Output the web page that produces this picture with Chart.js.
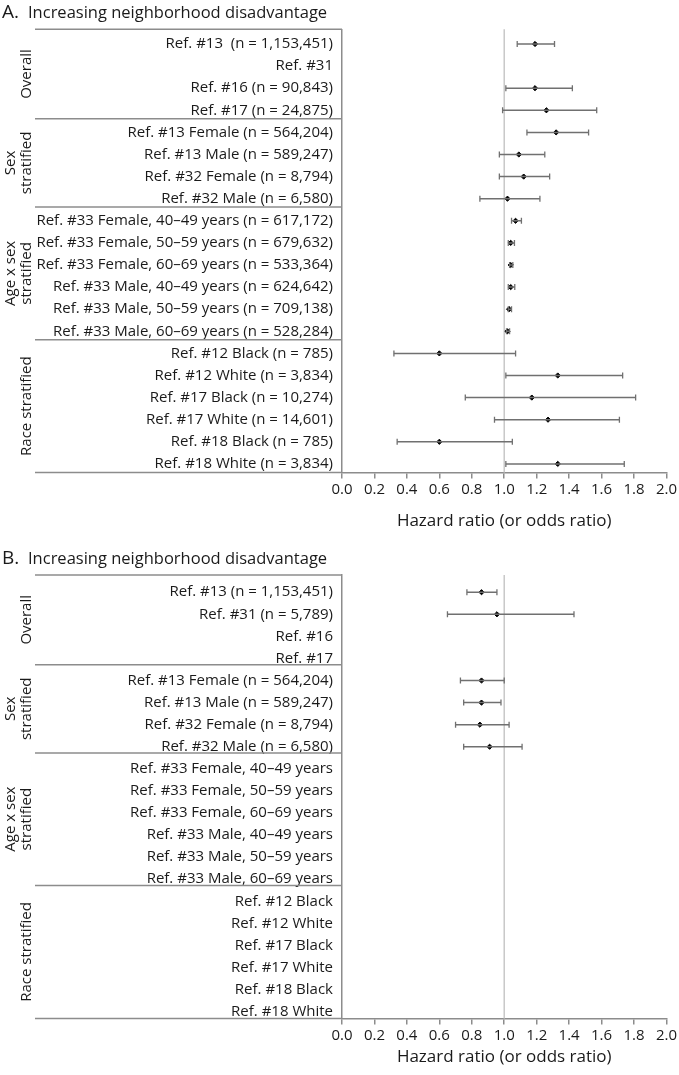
<!DOCTYPE html>
<html>
<head>
<meta charset="utf-8">
<script src="https://cdn.jsdelivr.net/npm/chart.js@4"></script>
<style>
    body { margin: 0; background: #fff; }
    canvas { display: block; }
</style>
</head>
<body>
<canvas id="graficoA" width="679" height="546"></canvas>
<canvas id="graficoB" width="679" height="529"></canvas>
<script>
// etiquetas de cada fila (panel A)
var etiquetasA = [
    'Ref. #13  (n = 1,153,451)', 'Ref. #31', 'Ref. #16 (n = 90,843)', 'Ref. #17 (n = 24,875)',
    'Ref. #13 Female (n = 564,204)', 'Ref. #13 Male (n = 589,247)', 'Ref. #32 Female (n = 8,794)', 'Ref. #32 Male (n = 6,580)',
    'Ref. #33 Female, 40\u201349 years (n = 617,172)', 'Ref. #33 Female, 50\u201359 years (n = 679,632)',
    'Ref. #33 Female, 60\u201369 years (n = 533,364)', 'Ref. #33 Male, 40\u201349 years (n = 624,642)',
    'Ref. #33 Male, 50\u201359 years (n = 709,138)', 'Ref. #33 Male, 60\u201369 years (n = 528,284)',
    'Ref. #12 Black (n = 785)', 'Ref. #12 White (n = 3,834)', 'Ref. #17 Black (n = 10,274)',
    'Ref. #17 White (n = 14,601)', 'Ref. #18 Black (n = 785)', 'Ref. #18 White (n = 3,834)'
];
var estimadoA = [1.19, null, 1.19, 1.26, 1.32, 1.09, 1.12, 1.02, 1.07, 1.04, 1.04, 1.04, 1.03, 1.02, 0.60, 1.33, 1.17, 1.27, 0.60, 1.33];
var inferiorA = [1.08, null, 1.01, 0.99, 1.14, 0.97, 0.97, 0.85, 1.045, 1.025, 1.033, 1.025, 1.025, 1.014, 0.32, 1.01, 0.76, 0.94, 0.34, 1.01];
var superiorA = [1.31, null, 1.42, 1.57, 1.52, 1.25, 1.28, 1.22, 1.106, 1.063, 1.053, 1.065, 1.045, 1.033, 1.07, 1.73, 1.81, 1.71, 1.05, 1.74];

// etiquetas de cada fila (panel B)
var etiquetasB = [
    'Ref. #13 (n = 1,153,451)', 'Ref. #31 (n = 5,789)', 'Ref. #16', 'Ref. #17',
    'Ref. #13 Female (n = 564,204)', 'Ref. #13 Male (n = 589,247)', 'Ref. #32 Female (n = 8,794)', 'Ref. #32 Male (n = 6,580)',
    'Ref. #33 Female, 40\u201349 years', 'Ref. #33 Female, 50\u201359 years', 'Ref. #33 Female, 60\u201369 years',
    'Ref. #33 Male, 40\u201349 years', 'Ref. #33 Male, 50\u201359 years', 'Ref. #33 Male, 60\u201369 years',
    'Ref. #12 Black', 'Ref. #12 White', 'Ref. #17 Black', 'Ref. #17 White', 'Ref. #18 Black', 'Ref. #18 White'
];
var estimadoB = [0.86, 0.955, null, null, 0.86, 0.86, 0.85, 0.91, null, null, null, null, null, null, null, null, null, null, null, null];
var inferiorB = [0.77, 0.65, null, null, 0.73, 0.75, 0.70, 0.75, null, null, null, null, null, null, null, null, null, null, null, null];
var superiorB = [0.955, 1.43, null, null, 1.00, 0.98, 1.03, 1.11, null, null, null, null, null, null, null, null, null, null, null, null];

// grupos de filas
var grupos = [['Overall'], ['Sex', 'stratified'], ['Age x sex', 'stratified'], ['Race stratified']];
var tamanioGrupos = [4, 4, 6, 6];

var ejeMin = 0, ejeMax = 2, ejePaso = 0.2;

var colorEje = '#8c8c8c';
var colorTexto = '#1a1a1a';
var fuente = "'Open Sans', sans-serif";

/////////////////////////////////////////
// plugin: titulo, lineas de grupo, linea en 1.0
/////////////////////////////////////////
var decoracion = {
    id: 'decoracion',
    beforeDatasetsDraw: function (chart) {
        var ctx = chart.ctx, area = chart.chartArea;
        var px = chart.scales.x.getPixelForValue(1);
        ctx.save();
        ctx.strokeStyle = '#c8c8c8';
        ctx.lineWidth = 1.5;
        ctx.beginPath();
        ctx.moveTo(px, area.top);
        ctx.lineTo(px, area.bottom);
        ctx.stroke();
        ctx.restore();
    },
    afterDraw: function (chart, args, opts) {
        var ctx = chart.ctx, area = chart.chartArea, y = chart.scales.y;
        ctx.save();
        // titulo
        ctx.fillStyle = colorTexto;
        ctx.textBaseline = 'alphabetic';
        ctx.textAlign = 'left';
        ctx.font = '19px ' + fuente;
        ctx.fillText(opts.letra, 2, 18);
        ctx.font = '16.5px ' + fuente;
        ctx.fillText('Increasing neighborhood disadvantage', 28, 18);

        // lineas horizontales de los grupos
        var bordes = [area.top];
        var acumulado = 0;
        tamanioGrupos.forEach(function (n, i) {
            acumulado += n;
            if (i < tamanioGrupos.length - 1) {
                bordes.push(y.getPixelForValue(acumulado - 0.5 - opts.desplazamiento));
            }
        });
        bordes.push(area.bottom);
        ctx.strokeStyle = colorEje;
        ctx.lineWidth = 1.5;
        bordes.forEach(function (b) {
            ctx.beginPath();
            ctx.moveTo(35, b);
            ctx.lineTo(area.left, b);
            ctx.stroke();
        });

        // nombres de grupo, rotados
        ctx.font = '15px ' + fuente;
        ctx.textAlign = 'center';
        grupos.forEach(function (lineas, i) {
            var centro = (bordes[i] + bordes[i + 1]) / 2;
            lineas.forEach(function (texto, j) {
                var base = 31 - (lineas.length - 1 - j) * 16;
                ctx.save();
                ctx.translate(base, centro);
                ctx.rotate(-Math.PI / 2);
                ctx.fillText(texto, 0, 0);
                ctx.restore();
            });
        });
        ctx.restore();
    }
};

function armarDatasets(estimado, inferior, superior) {
    var datasets = [];
    // intervalos de confianza
    estimado.forEach(function (v, i) {
        if (inferior[i] === null) return;
        datasets.push({
            type: 'scatter',
            showLine: true,
            data: [{x: inferior[i], y: i}, {x: superior[i], y: i}],
            borderColor: '#707070',
            borderWidth: 1.5,
            pointStyle: 'line',
            rotation: 90,
            pointRadius: 3,
            pointBorderColor: '#707070',
            pointBorderWidth: 1.3
        });
    });
    // estimados puntuales
    var puntos = [];
    estimado.forEach(function (v, i) {
        if (v !== null) puntos.push({x: v, y: i});
    });
    datasets.push({
        type: 'scatter',
        data: puntos,
        pointStyle: 'rectRot',
        pointRadius: 2.6,
        backgroundColor: '#000',
        borderColor: '#000',
        borderWidth: 1
    });
    return datasets;
}

function graficar(id, etiquetas, estimado, inferior, superior, cfg) {
    var ctx = document.getElementById(id).getContext('2d');
    new Chart(ctx, {
        type: 'scatter',
        data: {datasets: armarDatasets(estimado, inferior, superior)},
        plugins: [decoracion],
        options: {
            responsive: false,
            animation: false,
            layout: {padding: {left: 0, right: 11, top: cfg.arriba, bottom: 0}},
            plugins: {
                legend: {display: false},
                tooltip: {enabled: false},
                decoracion: {letra: cfg.letra, desplazamiento: cfg.desplazamiento}
            },
            scales: {
                x: {
                    type: 'linear',
                    min: ejeMin,
                    max: ejeMax,
                    afterFit: function (scale) {
                        scale.height = cfg.altoEje;
                    },
                    ticks: {
                        stepSize: ejePaso,
                        color: colorTexto,
                        padding: 2,
                        font: {family: fuente, size: 15},
                        callback: function (v) {
                            return Number(v).toFixed(1);
                        }
                    },
                    grid: {
                        drawOnChartArea: false,
                        drawTicks: true,
                        tickLength: 6,
                        tickColor: colorEje,
                        lineWidth: 1.5
                    },
                    border: {color: colorEje, width: 1.5},
                    title: {
                        display: true,
                        text: 'Hazard ratio (or odds ratio)',
                        color: colorTexto,
                        font: {family: fuente, size: 17},
                        padding: {top: 0, bottom: cfg.padTitulo}
                    }
                },
                y: {
                    type: 'linear',
                    reverse: true,
                    min: cfg.yMin,
                    max: cfg.yMax,
                    afterFit: function (scale) {
                        scale.width = 342;
                    },
                    afterBuildTicks: function (scale) {
                        scale.ticks = etiquetas.map(function (e, i) {
                            return {value: i};
                        });
                    },
                    ticks: {
                        autoSkip: false,
                        color: colorTexto,
                        padding: 9,
                        font: {family: fuente, size: 15},
                        callback: function (v) {
                            return etiquetas[v];
                        }
                    },
                    grid: {display: false, drawTicks: false},
                    border: {color: colorEje, width: 1.5}
                }
            }
        }
    });
}

graficar('graficoA', etiquetasA, estimadoA, inferiorA, superiorA,
        {letra: 'A.', arriba: 29.3, altoEje: 73.5, padTitulo: 14.8, yMin: -0.665, yMax: 19.39, desplazamiento: 0.12});
graficar('graficoB', etiquetasB, estimadoB, inferiorB, superiorB,
        {letra: 'B.', arriba: 29, altoEje: 56.5, padTitulo: 7.8, yMin: -0.78, yMax: 19.31, desplazamiento: 0.22});
</script>
</body>
</html>
